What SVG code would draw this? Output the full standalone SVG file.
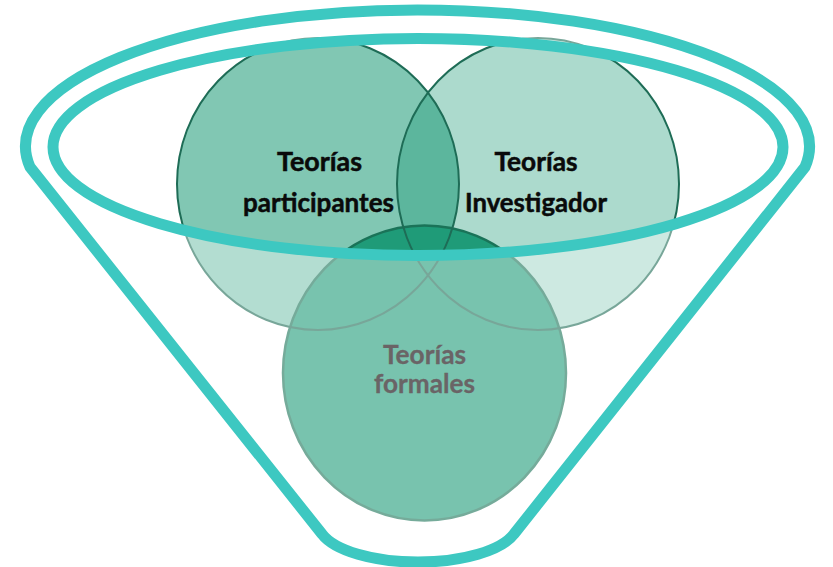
<svg xmlns="http://www.w3.org/2000/svg" xmlns:xlink="http://www.w3.org/1999/xlink" width="833" height="567" viewBox="0 0 833 567">
<style>
.lbl{font-family:Lato,"Liberation Sans",sans-serif;font-weight:bold;text-anchor:middle}
.dark{fill:#0a0a0a;stroke:#0a0a0a;stroke-width:0.5;font-size:27px}
.grey{fill:#6a6466;stroke:#6a6466;stroke-width:0.3;font-size:26px}
.outline{fill:none;stroke:#1e6c56;stroke-width:2}
.ring{fill:none;stroke:#3dc8c1;stroke-width:11;stroke-linejoin:round}
</style>
<defs>
<ellipse id="e-left" cx="318" cy="184" rx="141" ry="146"/>
<ellipse id="e-right" cx="538" cy="184" rx="141" ry="146"/>
<ellipse id="e-bottom" cx="424.5" cy="373" rx="141.5" ry="147.5"/>
</defs>
<g id="participantes">
<use xlink:href="#e-left" fill="#1f9b78" fill-opacity="0.565"/>
</g>
<g id="investigador">
<use xlink:href="#e-right" fill="#1f9b78" fill-opacity="0.37"/>
</g>
<g id="formales">
<use xlink:href="#e-bottom" fill="#1f9b78" stroke="#1a7358" stroke-width="2.5"/>
</g>
<g id="outlines">
<use xlink:href="#e-left" class="outline"/>
<use xlink:href="#e-right" class="outline"/>
</g>
<path id="wash" d="M0,0H833V567H0Z M53,147 A365,108.5 0 1 0 783,147 A365,108.5 0 1 0 53,147Z" fill="#fff" fill-opacity="0.4" fill-rule="evenodd"/>
<g id="funnel">
<path class="ring" d="M30,167 A392,136.5 0 1 1 805,167 L514,534 A100,39 0 0 1 322,534 Z"/>
<ellipse class="ring" cx="418" cy="147" rx="365" ry="108.5"/>
</g>
<g id="labels">
<text class="lbl dark" x="319.5" y="171" textLength="85" lengthAdjust="spacingAndGlyphs">Teorías</text>
<text class="lbl dark" x="318.5" y="212" textLength="151" lengthAdjust="spacingAndGlyphs">participantes</text>
<text class="lbl dark" x="536" y="171" textLength="83" lengthAdjust="spacingAndGlyphs">Teorías</text>
<text class="lbl dark" x="536" y="212" textLength="142" lengthAdjust="spacingAndGlyphs">Investigador</text>
<text class="lbl grey" x="424.5" y="364" textLength="83" lengthAdjust="spacingAndGlyphs">Teorías</text>
<text class="lbl grey" x="424.5" y="393" textLength="101" lengthAdjust="spacingAndGlyphs">formales</text>
</g>
</svg>
